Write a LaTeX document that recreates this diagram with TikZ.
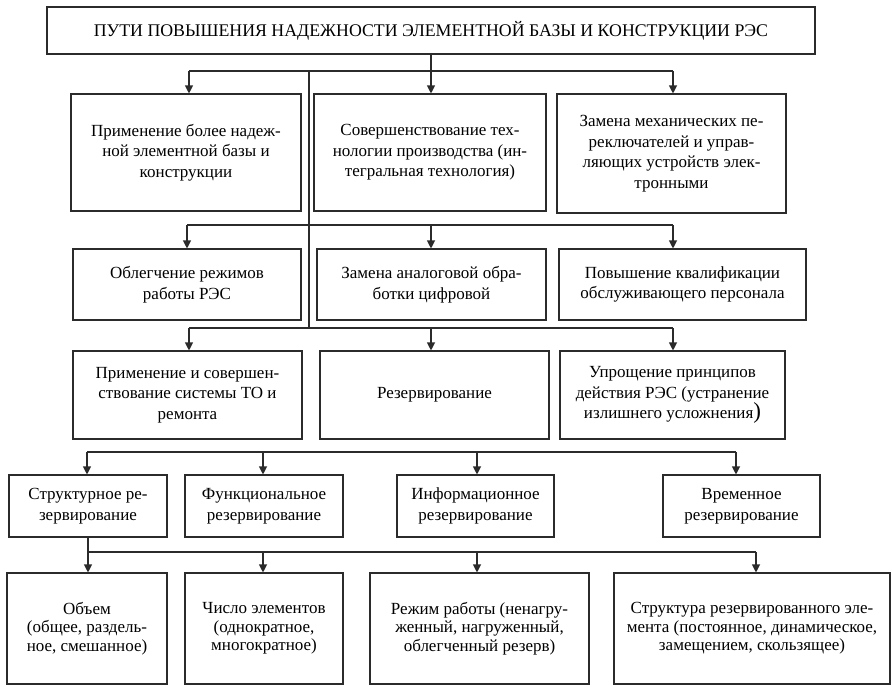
\documentclass[tikz,border=0pt]{standalone}
\usepackage{fontspec}
\setmainfont{Liberation Serif}
\usetikzlibrary{arrows.meta}
\definecolor{ink}{HTML}{2B2B2B}

\begin{document}
\begin{tikzpicture}[x=1pt,y=-1pt,
 box/.style={draw=ink,line width=1.1pt,align=center,inner sep=0pt,
 font=\fontsize{17}{20.5}\selectfont},
 low/.style={font=\fontsize{17}{18.5}\selectfont},
 link/.style={draw=ink,line width=1.1pt},>={Triangle[length=8pt,width=8pt]}]
\useasboundingbox (0,0) rectangle (892,686);
% top
\node[box,minimum width=768pt,minimum height=47pt,font=\fontsize{17.8}{20.5}\selectfont] (top) at (431,30.5)
 {ПУТИ ПОВЫШЕНИЯ НАДЕЖНОСТИ ЭЛЕМЕНТНОЙ БАЗЫ И КОНСТРУКЦИИ РЭС};
% row 1
\node[box,minimum width=230pt,minimum height=117pt] (r1a) at (186,152.5)
 {Применение более надеж-\\ной элементной базы и\\конструкции};
\node[box,minimum width=232pt,minimum height=117pt] (r1b) at (430,152.5)
 {Совершенствование тех-\\нологии производства (ин-\\тегральная технология)};
\node[box,minimum width=229pt,minimum height=119pt] (r1c) at (671.5,153.5)
 {Замена механических пе-\\реключателей и управ-\\ляющих устройств элек-\\тронными};
% row 2
\node[box,minimum width=228pt,minimum height=71pt] (r2a) at (187,284.5)
 {Облегчение режимов\\работы РЭС};
\node[box,minimum width=229pt,minimum height=71pt] (r2b) at (431.5,284.5)
 {Замена аналоговой обра-\\ботки цифровой};
\node[box,minimum width=247pt,minimum height=71pt] (r2c) at (682.5,284.5)
 {Повышение квалификации\\обслуживающего персонала};
% row 3
\node[box,minimum width=229pt,minimum height=88pt] (r3a) at (187.5,395)
 {Применение и совершен-\\ствование системы ТО и\\ремонта};
\node[box,minimum width=229pt,minimum height=88pt] (r3b) at (434.5,395)
 {Резервирование};
\node[box,minimum width=225pt,minimum height=88pt] (r3c) at (672.5,395)
 {Упрощение принципов\\действия РЭС (устранение\\излишнего усложнения{\fontsize{23}{20.5}\selectfont)}};
% row 4
\node[box,minimum width=158pt,minimum height=62pt] (r4a) at (88,506)
 {Структурное ре-\\зервирование};
\node[box,minimum width=158pt,minimum height=62pt] (r4b) at (264,506)
 {Функциональное\\резервирование};
\node[box,minimum width=157pt,minimum height=62pt] (r4c) at (475.5,506)
 {Информационное\\резервирование};
\node[box,minimum width=157pt,minimum height=62pt] (r4d) at (741.5,506)
 {Временное\\резервирование};
% row 5
\node[box,low,minimum width=160pt,minimum height=111pt] (r5a) at (87,628.5)
 {Объем\\(общее, раздель-\\ное, смешанное)};
\node[box,low,minimum width=158pt,minimum height=111pt] (r5b) at (264,628.5)
 {Число элементов\\(однократное,\\многократное)};
\node[box,low,minimum width=219pt,minimum height=111pt] (r5c) at (479.5,628.5)
 {Режим работы (ненагру-\\женный, нагруженный,\\облегченный резерв)};
\node[box,low,minimum width=276pt,minimum height=111pt] (r5d) at (752,628.5)
 {Структура резервированного эле-\\мента (постоянное, динамическое,\\замещением, скользящее)};
% branch points
\coordinate (j1a) at (189,71);  \coordinate (j1c) at (673,71);
\coordinate (j2a) at (187,225); \coordinate (j2b) at (431,225); \coordinate (j2c) at (673,225);
\coordinate (j3a) at (189,328); \coordinate (j3b) at (431,328); \coordinate (j3c) at (673,328);
\coordinate (j4a) at (87,452);  \coordinate (j4b) at (263,452);
\coordinate (j4c) at (477,452); \coordinate (j4d) at (736,452);
\coordinate (j5a) at (88,552);  \coordinate (j5b) at (263,552);
\coordinate (j5c) at (477,552); \coordinate (j5d) at (756,552);
\coordinate (tr1) at (309,71);  \coordinate (tr2) at (309,328);
% lines
\draw[link] (j1a)--(j1c);
\draw[link] (tr1)--(tr2);
\draw[link] (j2a)--(j2c);
\draw[link] (j3a)--(j3c);
\draw[link] (j4a)--(j4d);
\draw[link] (r4a.south)--(j5a)--(j5d);
\draw[link,->] (top.south)--(top.south |- r1b.north);
\foreach \x/\y in {j1a/r1a,j1c/r1c,j2a/r2a,j2b/r2b,j2c/r2c,j3a/r3a,j3b/r3b,j3c/r3c,
 j4a/r4a,j4b/r4b,j4c/r4c,j4d/r4d,j5a/r5a,j5b/r5b,j5c/r5c,j5d/r5d}
 \draw[link,->] (\x)--(\x |- \y.north);
\end{tikzpicture}
\end{document}
